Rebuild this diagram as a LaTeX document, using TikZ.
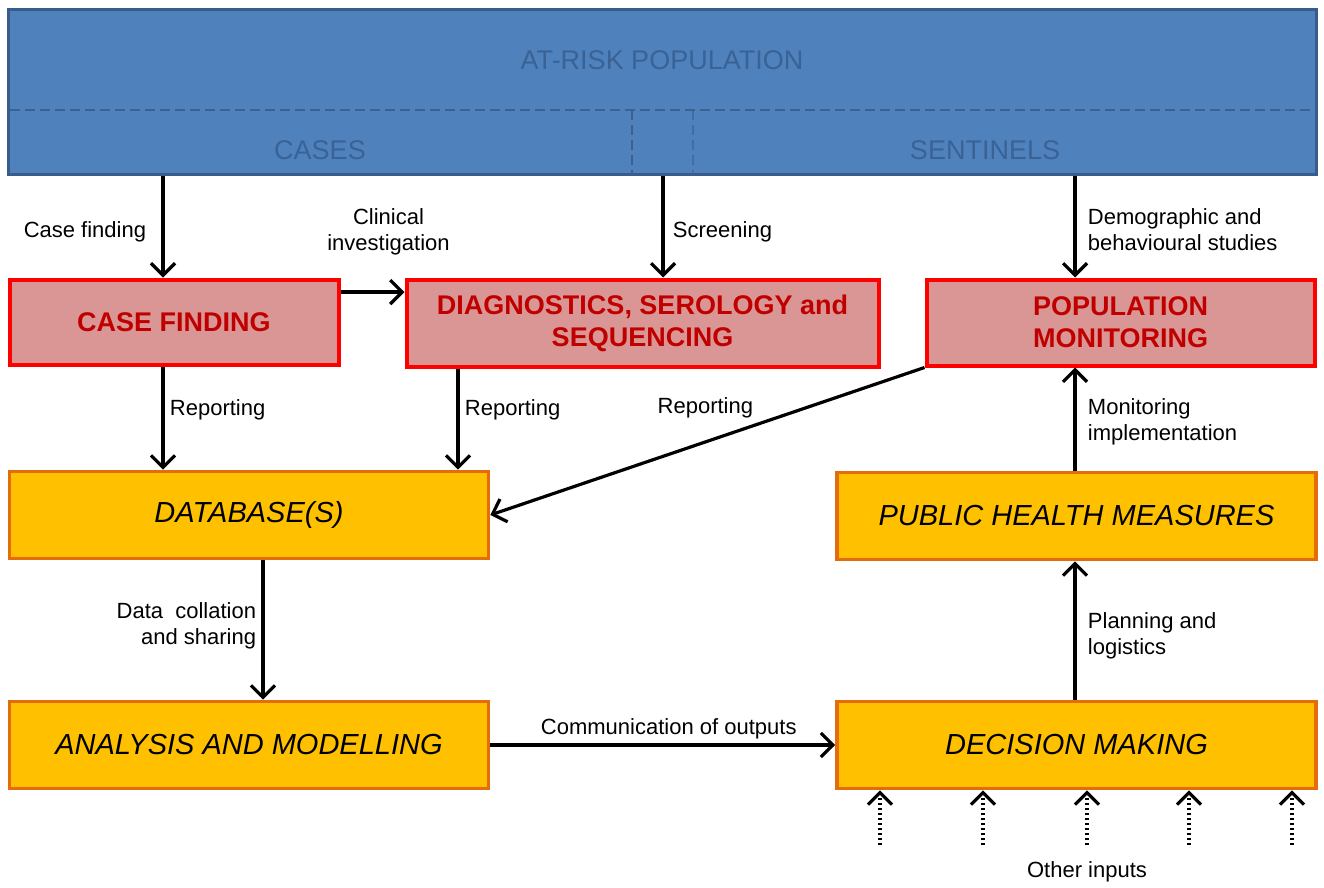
\documentclass[tikz,border=0pt]{standalone}
\usepackage{fontspec}
\setmainfont{Liberation Sans}
\usetikzlibrary{arrows.meta}

\definecolor{popfill}{HTML}{4F81BD}
\definecolor{popline}{HTML}{385D8A}
\definecolor{poptext}{HTML}{3A6294}
\definecolor{redfill}{HTML}{D99694}
\definecolor{redline}{HTML}{FF0000}
\definecolor{redtext}{HTML}{C00000}
\definecolor{orfill}{HTML}{FFC000}
\definecolor{orline}{HTML}{E46C0A}

\tikzset{
    banner/.style={draw=popline, fill=popfill, line width=3.5pt, minimum width=1308pt, minimum height=165pt},
    bantext/.style={text=poptext, font=\fontsize{27}{32}\selectfont},
    bandash/.style={draw=popline!90!popfill, line width=2.8pt, dash pattern=on 10pt off 5pt},
    redbox/.style={draw=redline, fill=redfill, line width=4pt, text=redtext, align=center,
        font=\bfseries\fontsize{27}{32}\selectfont},
    orbox/.style={draw=orline, fill=orfill, line width=3.6pt, align=center,
        minimum width=479pt, minimum height=87pt, font=\itshape\fontsize{29}{34}\selectfont},
    lbl/.style={font=\fontsize{22}{26}\selectfont},
    arr/.style={line width=3.2pt, -{Straight Barb[length=12pt, width=24pt]}},
    dotarr/.style={line width=3.2pt, dash pattern=on 2.5pt off 2.5pt, -{Straight Barb[length=12pt, width=24pt]}}
}

\begin{document}
\begin{tikzpicture}[x=1pt, y=-1pt]
    \useasboundingbox (0,0) rectangle (1324,887);

    % at-risk population banner
    \node[banner] (pop) at (662.5,92) {};
    \draw[bandash] (10,110) -- (1315,110);
    \draw[bandash] (632,110) -- (632,175);
    \draw[bandash, opacity=0.6] (693,110) -- (693,175);
    \node[bantext] (atrisk) at (662,60) {AT-RISK POPULATION};
    \node[bantext] (cases) at (320,150) {CASES};
    \node[bantext] (sentinels) at (985,150) {SENTINELS};

    % red boxes
    \node[redbox, minimum width=329pt, minimum height=85pt] (cf) at (174,322) {CASE FINDING};
    \node[redbox, minimum width=472pt, minimum height=87pt] (dg) at (642.5,323) {DIAGNOSTICS, SEROLOGY and\\SEQUENCING};
    \node[redbox, minimum width=388pt, minimum height=86pt] (pm) at (1120.5,322.5) {POPULATION\\MONITORING};

    % orange boxes
    \node[orbox] (db) at (249,515) {DATABASE(S)};
    \node[orbox] (ph) at (1076.5,516) {PUBLIC HEALTH MEASURES};
    \node[orbox] (am) at (249,745) {ANALYSIS AND MODELLING};
    \node[orbox] (dm) at (1076.5,745) {DECISION MAKING};

    % columns of the vertical connectors
    \coordinate (colCF) at (163,0);
    \coordinate (colDG) at (458,0);
    \coordinate (colSC) at (663,0);
    \coordinate (colDB) at (263,0);
    \coordinate (colPH) at (1075,0);

    \draw[arr] (pop.south -| colCF) -- (cf.north -| colCF)
        node[lbl, pos=.55, left, xshift=-12pt] {Case finding};
    \draw[arr] (cf.east |- 0,292) -- (dg.west |- 0,292)
        node[lbl, midway, above=32pt, xshift=16pt, align=center] {Clinical\\investigation};
    \draw[arr] (pop.south -| colSC) -- (dg.north -| colSC)
        node[lbl, pos=.55, right, xshift=5pt] {Screening};
    \draw[arr] (pop.south -| colPH) -- (pm.north -| colPH)
        node[lbl, pos=.53, right, xshift=8pt, align=left] {Demographic and\\behavioural studies};

    \draw[arr] (cf.south -| colCF) -- (db.north -| colCF)
        node[lbl, pos=.42, right, xshift=2pt] {Reporting};
    \draw[arr] (dg.south -| colDG) -- (db.north -| colDG)
        node[lbl, pos=.41, right, xshift=2pt] {Reporting};
    \draw[arr] (pm.south west) -- (db.east)
        node[lbl, midway, above=18pt, xshift=-2pt] {Reporting};
    \draw[arr] (ph.north -| colPH) -- (pm.south -| colPH)
        node[lbl, pos=.47, right, xshift=8pt, align=left] {Monitoring\\implementation};

    \draw[arr] (db.south -| colDB) -- (am.north -| colDB)
        node[lbl, pos=.47, left, xshift=-2pt, align=right] {Data\ \ collation\\and sharing};
    \draw[arr] (am.east) -- (dm.west)
        node[lbl, midway, above, xshift=6pt, yshift=1pt] {Communication of outputs};
    \draw[arr] (dm.north -| colPH) -- (ph.south -| colPH)
        node[lbl, pos=.46, right, xshift=8pt, align=left] {Planning and\\logistics};

    % other inputs
    \foreach \x [count=\i] in {880,983,1087,1189,1292} {
        \coordinate (in\i) at (\x,845);
        \draw[dotarr] (in\i) -- (dm.south -| in\i);
    }
    \node[lbl] (other) at (1087,872) {Other inputs};
\end{tikzpicture}
\end{document}
